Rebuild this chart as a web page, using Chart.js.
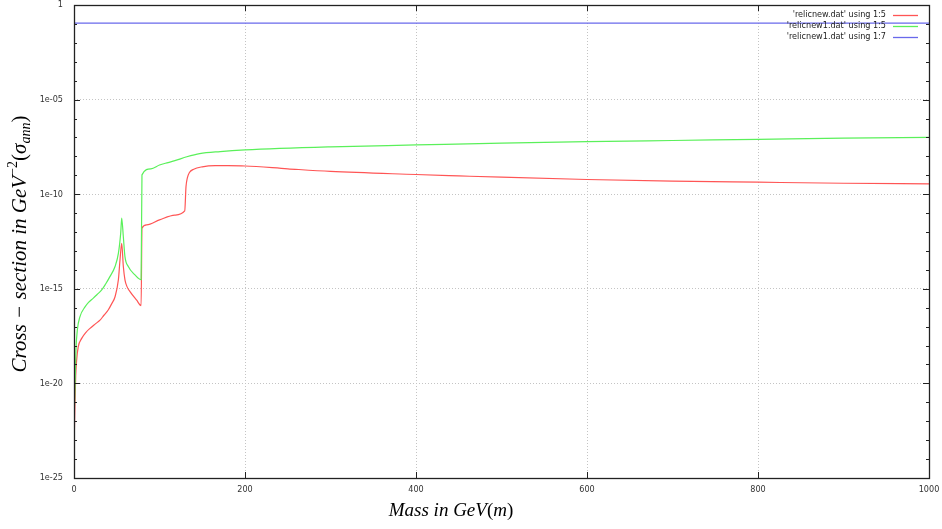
<!DOCTYPE html>
<html>
<head>
<meta charset="utf-8">
<script src="https://cdn.jsdelivr.net/npm/chart.js@4.4.1/dist/chart.umd.min.js"></script>
<style>
  html, body { margin: 0; padding: 0; background: #fff; }
  #wrap { width: 942px; height: 529px; }
</style>
</head>
<body>
<div id="wrap"><canvas id="relic"></canvas></div>
<script>
// 'relicnew.dat' using 1:5
const massNew = [0.3, 1.2, 2, 3.1, 5, 9, 14, 18.7, 25, 30.4,
                 35, 40, 44, 48, 51.9, 53.8, 55.8, 57.7, 59.6, 62,
                 65.5, 73.3, 78.5, 79.5, 85, 100, 118, 129.5, 131, 132.5,
                 135, 140, 150, 165, 180, 200, 250, 300, 400, 450,
                 500, 600, 700, 800, 900, 1000];
const sigmaNew = [1.3e-23, 1.3e-21, 2.5e-20, 1.7e-19, 8.7e-19, 2.4e-18, 5.0e-18, 8.1e-18, 1.4e-17, 2.2e-17,
                  4.0e-17, 7.6e-17, 1.6e-16, 3.8e-16, 3.0e-15, 3.3e-14, 2.5e-13, 1.5e-14, 3.0e-15, 1.3e-15,
                  7.1e-16, 2.5e-16, 1.3e-16, 1.6e-12, 2.4e-12, 4.4e-12, 7.9e-12, 1.3e-11, 2.5e-10, 7.1e-10,
                  1.4e-9, 2.1e-9, 2.8e-9, 3.2e-9, 3.2e-9, 3.1e-9, 2.2e-9, 1.6e-9, 1.1e-9, 9.3e-10,
                  7.9e-10, 6.0e-10, 4.9e-10, 4.3e-10, 3.8e-10, 3.5e-10];

// 'relicnew1.dat' using 1:5
const massNew1 = [0.4, 1.2, 2.3, 3.9, 7, 12.9, 17, 22.6, 27, 32.4,
                  37, 42, 48, 51.9, 54.6, 55.8, 57.7, 59.6, 63.5, 71.3,
                  78.5, 79.5, 90, 100, 110, 118, 132, 147, 171, 200,
                  300, 400, 500, 600, 700, 800, 900, 1000];
const sigmaNew1 = [4.0e-22, 6.8e-21, 5.9e-19, 6.6e-18, 3.4e-17, 1.1e-16, 1.9e-16, 3.2e-16, 5.0e-16, 8.7e-16,
                   1.8e-15, 4.4e-15, 1.5e-14, 7.4e-14, 8.5e-13, 5.4e-12, 5.6e-13, 5.0e-14, 1.5e-14, 5.4e-15,
                   3.0e-15, 1.05e-9, 2.2e-9, 3.5e-9, 4.7e-9, 5.9e-9, 9.5e-9, 1.4e-8, 1.8e-8, 2.2e-8,
                   3.2e-8, 4.0e-8, 5.0e-8, 6.0e-8, 6.9e-8, 7.9e-8, 9.1e-8, 1.0e-7];

// 'relicnew1.dat' using 1:7
const massNew1c7 = [0, 1000];
const sigmaNew1c7 = [0.11, 0.11];

const labels = ["'relicnew.dat' using 1:5", "'relicnew1.dat' using 1:5", "'relicnew1.dat' using 1:7"];
const colors = ['rgb(255,85,85)', 'rgb(90,240,90)', 'rgb(105,105,235)'];

const xTicks = [0, 200, 400, 600, 800, 1000];
const yDecades = [];
for (let e = -25; e <= 0; e++) yDecades.push(e);

const pairs = (xs, ys) => xs.map((m, i) => ({ x: m, y: ys[i] }));
const decade = v => Math.round(Math.log10(v));

const tickFont = { family: "'DejaVu Sans Condensed', 'DejaVu Sans', sans-serif", size: 9 };

// draw a run of text pieces, some raised or lowered, centred on (cx, cy)
function drawRich(ctx, parts, cx, cy, angle) {
  const fam = "'Liberation Serif', 'DejaVu Serif', serif";
  let total = 0;
  parts.forEach(p => {
    ctx.font = (p.italic ? 'italic ' : '') + p.size + 'px ' + fam;
    p.w = ctx.measureText(p.t).width;
    total += p.w;
  });
  ctx.save();
  ctx.translate(cx, cy);
  ctx.rotate(angle);
  ctx.fillStyle = '#000';
  ctx.textBaseline = 'alphabetic';
  let x = -total / 2;
  parts.forEach(p => {
    ctx.font = (p.italic ? 'italic ' : '') + p.size + 'px ' + fam;
    ctx.fillText(p.t, x, 6 + (p.dy || 0));
    x += p.w;
  });
  ctx.restore();
}

const axisTitles = {
  id: 'axisTitles',
  afterDraw(chart) {
    const ctx = chart.ctx;
    drawRich(ctx, [
      { t: 'Cross − section in GeV', size: 21, italic: true },
      { t: '−2', size: 14, dy: -9 },
      { t: '(', size: 21 },
      { t: 'σ', size: 21, italic: true },
      { t: 'ann', size: 14, italic: true, dy: 4 },
      { t: ')', size: 21 }
    ], 20, 244, -Math.PI / 2);
    drawRich(ctx, [
      { t: 'Mass in GeV', size: 19, italic: true },
      { t: '(', size: 19 },
      { t: 'm', size: 19, italic: true },
      { t: ')', size: 19 }
    ], 451, 510, 0);
  }
};

// gnuplot-like frame with inward ticks
const frame = {
  id: 'frame',
  afterDatasetsDraw(chart) {
    const { ctx, chartArea: a, scales: { x, y } } = chart;
    ctx.save();
    ctx.strokeStyle = '#222';
    ctx.lineWidth = 1;
    ctx.beginPath();
    xTicks.forEach(v => {
      const px = Math.round(x.getPixelForValue(v)) + 0.5;
      ctx.moveTo(px, a.bottom); ctx.lineTo(px, a.bottom - 6);
      ctx.moveTo(px, a.top); ctx.lineTo(px, a.top + 6);
    });
    yDecades.forEach(e => {
      const py = Math.round(y.getPixelForValue(Math.pow(10, e))) + 0.5;
      const len = e % 5 === 0 ? 6 : 3;
      ctx.moveTo(a.left, py); ctx.lineTo(a.left + len, py);
      ctx.moveTo(a.right, py); ctx.lineTo(a.right - len, py);
    });
    ctx.stroke();
    ctx.lineWidth = 1.3;
    ctx.strokeRect(Math.round(a.left) + 0.5, Math.round(a.top) + 0.5,
                   Math.round(a.right - a.left), Math.round(a.bottom - a.top));
    ctx.restore();
  }
};

// key in the top right corner, text left of the sample line
const key = {
  id: 'key',
  afterDraw(chart) {
    const ctx = chart.ctx;
    ctx.save();
    ctx.font = "9px 'DejaVu Sans Condensed', 'DejaVu Sans', sans-serif";
    ctx.textAlign = 'right';
    ctx.textBaseline = 'middle';
    labels.forEach((txt, i) => {
      const yy = 15 + i * 11;
      ctx.fillStyle = '#222';
      ctx.fillText(txt, 886, yy);
      ctx.strokeStyle = colors[i];
      ctx.lineWidth = 1.3;
      ctx.beginPath();
      ctx.moveTo(893, yy + 0.5);
      ctx.lineTo(918, yy + 0.5);
      ctx.stroke();
    });
    ctx.restore();
  }
};

new Chart(document.getElementById('relic'), {
  type: 'line',
  data: {
    datasets: [
      { label: labels[0], data: pairs(massNew, sigmaNew), borderColor: colors[0], order: 3 },
      { label: labels[1], data: pairs(massNew1, sigmaNew1), borderColor: colors[1], order: 2 },
      { label: labels[2], data: pairs(massNew1c7, sigmaNew1c7), borderColor: colors[2], order: 1 }
    ]
  },
  options: {
    responsive: true,
    maintainAspectRatio: false,
    animation: false,
    elements: {
      line: { borderWidth: 1.2, tension: 0, cubicInterpolationMode: 'monotone' },
      point: { radius: 0, hoverRadius: 0 }
    },
    layout: { padding: { top: 5, right: 13, left: 0, bottom: 0 } },
    plugins: {
      legend: { display: false },
      tooltip: { enabled: false }
    },
    scales: {
      x: {
        type: 'linear',
        min: 0,
        max: 1000,
        afterBuildTicks(s) { s.ticks = xTicks.map(v => ({ value: v })); },
        afterFit(s) { s.height = 51; s.paddingLeft = 0; s.paddingRight = 0; },
        ticks: { font: tickFont, color: '#333', padding: 6, maxRotation: 0, callback: v => String(v) },
        grid: {
          drawTicks: false,
          color: c => (c.tick && c.tick.value > 0 && c.tick.value < 1000) ? '#c4c4c4' : 'rgba(0,0,0,0)'
        },
        border: { display: false, dash: [1, 2] }
      },
      y: {
        type: 'logarithmic',
        min: 1e-25,
        max: 1,
        afterBuildTicks(s) { s.ticks = yDecades.map(e => ({ value: Math.pow(10, e) })); },
        afterFit(s) { s.width = 74; s.paddingTop = 0; s.paddingBottom = 0; },
        ticks: {
          font: tickFont,
          color: '#333',
          padding: 11,
          autoSkip: false,
          callback: v => {
            const e = decade(v);
            if (e % 5 !== 0) return '';
            return e === 0 ? '1' : '1e-' + String(-e).padStart(2, '0');
          }
        },
        grid: {
          drawTicks: false,
          color: c => {
            if (!c.tick) return 'rgba(0,0,0,0)';
            const e = decade(c.tick.value);
            return (e % 5 === 0 && e !== 0 && e !== -25) ? '#c4c4c4' : 'rgba(0,0,0,0)';
          }
        },
        border: { display: false, dash: [1, 2] }
      }
    }
  },
  plugins: [frame, axisTitles, key]
});
</script>
</body>
</html>
